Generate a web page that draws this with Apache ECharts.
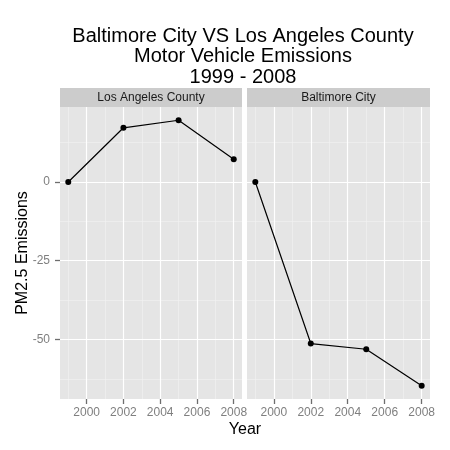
<!DOCTYPE html>
<html><head><meta charset="utf-8">
<script src="https://cdn.jsdelivr.net/npm/echarts@6/dist/echarts.min.js"></script>
<style>html,body{margin:0;padding:0;background:#fff}#c{width:450px;height:450px}</style>
</head><body><div id="c"></div>
<script>
const years = [1999, 2002, 2005, 2008];
const laValues = [0, 17.2, 19.6, 7.2];
const baltValues = [0, -51.3, -53.1, -64.7];
const panels = ['Los Angeles County', 'Baltimore City'];
const xTicks = [2000, 2002, 2004, 2006, 2008];
const xMinor = [1999, 2001, 2003, 2005, 2007];
const yTicks = [-50, -25, 0];
const yMinor = [-62.5, -37.5, -12.5, 12.5];
const xRange = [1998.55, 2008.45];
const yRange = [-68.9, 23.8];

const chart = echarts.init(document.getElementById('c'), null, {renderer: 'canvas'});
const FONT = 'Liberation Sans, Arial, sans-serif';
const grids = [
  {left: 60, top: 107, width: 182, height: 292, show: true, backgroundColor: '#E5E5E5', borderWidth: 0},
  {left: 247, top: 107, width: 183, height: 292, show: true, backgroundColor: '#E5E5E5', borderWidth: 0}
];
const xAxes = [], yAxes = [];
grids.forEach((g, i) => {
  xAxes.push({type: 'value', gridIndex: i, position: 'bottom', min: xRange[0], max: xRange[1],
    axisLine: {show: false, onZero: false},
    axisLabel: {show: false, customValues: xMinor},
    axisTick: {show: false, customValues: xMinor},
    splitLine: {show: true, lineStyle: {color: '#F2F2F2', width: 0.6}}, z: 0});
  xAxes.push({type: 'value', gridIndex: i, position: 'bottom', offset: 0, min: xRange[0], max: xRange[1],
    axisLine: {show: false, onZero: false},
    axisTick: {show: true, inside: false, length: 5, customValues: xTicks, lineStyle: {color: '#6E6E6E', width: 1.3}},
    axisLabel: {show: true, customValues: xTicks, color: '#7F7F7F', fontSize: 12, fontFamily: FONT, margin: 8,
      formatter: v => String(v)},
    splitLine: {show: true, lineStyle: {color: '#FFFFFF', width: 1.2}}, z: 1});
  yAxes.push({type: 'value', gridIndex: i, position: 'left', min: yRange[0], max: yRange[1],
    axisLine: {show: false, onZero: false},
    axisLabel: {show: false, customValues: yMinor},
    axisTick: {show: false, customValues: yMinor},
    splitLine: {show: true, lineStyle: {color: '#F2F2F2', width: 0.6}}, z: 0});
  yAxes.push({type: 'value', gridIndex: i, position: 'left', offset: 0, min: yRange[0], max: yRange[1],
    axisLine: {show: false, onZero: false},
    axisTick: {show: i === 0, inside: false, length: 5, customValues: yTicks, lineStyle: {color: '#6E6E6E', width: 1.3}},
    axisLabel: {show: i === 0, customValues: yTicks, color: '#7F7F7F', fontSize: 12, fontFamily: FONT, margin: 10,
      formatter: v => String(v)},
    splitLine: {show: true, lineStyle: {color: '#FFFFFF', width: 1.2}}, z: 1});
});

const allValues = [laValues, baltValues];
const series = allValues.map((vals, i) => ({
  type: 'line', xAxisIndex: i * 2 + 1, yAxisIndex: i * 2 + 1,
  data: years.map((y, k) => [y, vals[k]]),
  lineStyle: {color: '#000', width: 1.2},
  itemStyle: {color: '#000'},
  symbol: 'circle', symbolSize: 6, showSymbol: true, animation: false, z: 5
}));

const graphic = [];
grids.forEach((g, i) => {
  graphic.push({type: 'rect', left: g.left, top: 88, shape: {width: g.width, height: 19},
    style: {fill: '#CCCCCC'}, z: 0});
  graphic.push({type: 'text', x: g.left + g.width / 2, y: 97.5,
    style: {text: panels[i], fill: '#1A1A1A', font: '12px ' + FONT, textAlign: 'center', textVerticalAlign: 'middle'}});
});
graphic.push({type: 'text', x: 245, y: 430,
  style: {text: 'Year', fill: '#000', font: '16px ' + FONT, textAlign: 'center', textVerticalAlign: 'middle'}});
graphic.push({type: 'text', x: 23, y: 253, rotation: Math.PI / 2,
  style: {text: 'PM2.5 Emissions', fill: '#000', font: '16px ' + FONT, textAlign: 'center', textVerticalAlign: 'middle'}});

chart.setOption({
  backgroundColor: '#fff',
  animation: false,
  title: {text: 'Baltimore City VS Los Angeles County\nMotor Vehicle Emissions\n1999 - 2008',
    left: 238, top: 21, textAlign: 'center',
    textStyle: {fontSize: 20, fontWeight: 'normal', color: '#000', fontFamily: FONT, lineHeight: 20.5}},
  grid: grids,
  xAxis: xAxes, yAxis: yAxes, series: series, graphic: graphic
});
</script></body></html>
